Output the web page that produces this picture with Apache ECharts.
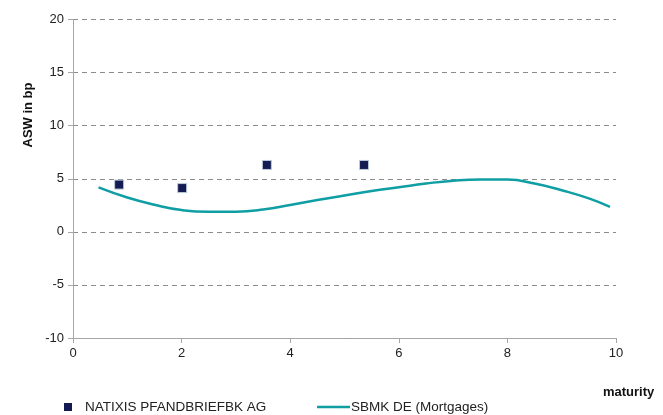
<!DOCTYPE html>
<html>
<head>
<meta charset="utf-8">
<script src="https://cdn.jsdelivr.net/npm/echarts@6/dist/echarts.min.js"></script>
<style>
html,body{margin:0;padding:0;background:#fff;}
#chart{width:663px;height:415px;}
</style>
</head>
<body>
<div id="chart"></div>
<script>
const natixisMaturity = [0.85, 2.01, 3.57, 5.36];
const natixisAsw = [4.45, 4.12, 6.3, 6.3];
const curveMaturity = [0.47, 1.0, 1.5, 2.0, 2.5, 3.0, 3.5, 4.0, 4.5, 5.0, 5.5, 6.0, 6.5, 7.0, 7.5, 8.0, 8.5, 9.0, 9.5, 9.89];
const curveAsw = [4.18, 3.23, 2.55, 2.05, 1.88, 1.9, 2.1, 2.52, 3.0, 3.42, 3.85, 4.2, 4.55, 4.82, 4.94, 4.92, 4.55, 3.92, 3.15, 2.35];
const seriesNames = ['NATIXIS PFANDBRIEFBK AG', 'SBMK DE (Mortgages)'];
const xTicks = {min: 0, max: 10, interval: 2};
const yTicks = {min: -10, max: 20, interval: 5};

const font = 'Liberation Sans, Arial, sans-serif';
const chart = echarts.init(document.getElementById('chart'));
chart.setOption({
  animation: false,
  textStyle: {fontFamily: font},
  grid: {left: 73, right: 47, top: 19.5, bottom: 77},
  xAxis: {
    type: 'value', min: xTicks.min, max: xTicks.max, interval: xTicks.interval,
    axisLine: {onZero: false, lineStyle: {color: '#a6a6a6', width: 1}},
    axisTick: {show: true, length: 5, lineStyle: {color: '#a6a6a6'}},
    axisLabel: {color: '#222', fontSize: 13, margin: 9, fontFamily: font},
    splitLine: {show: false}
  },
  yAxis: {
    type: 'value', min: yTicks.min, max: yTicks.max, interval: yTicks.interval,
    axisLine: {show: true, onZero: false, lineStyle: {color: '#a6a6a6', width: 1}},
    axisTick: {show: true, length: 5, lineStyle: {color: '#a6a6a6'}},
    axisLabel: {color: '#222', fontSize: 13, margin: 9, fontFamily: font},
    splitLine: {show: true, lineStyle: {color: '#8c8c8c', type: [5, 4], width: 1}}
  },
  graphic: [
    {type: 'text', x: 28, y: 115, rotation: Math.PI / 2,
     style: {text: 'ASW in bp', fill: '#111', font: 'bold 13px ' + font, textAlign: 'center', textVerticalAlign: 'middle'}},
    {type: 'text', x: 603, y: 392,
     style: {text: 'maturity', fill: '#111', font: 'bold 13px ' + font, textAlign: 'left', textVerticalAlign: 'middle'}}
  ],
  legend: [
    {data: [{name: seriesNames[0], icon: 'rect', itemStyle: {borderWidth: 0, color: '#141a52'}}], left: 59, top: 395, itemWidth: 8, itemHeight: 8,
     textStyle: {color: '#222', fontSize: 13.5, fontFamily: font, padding: [0, 0, 0, 8]}},
    {data: [{name: seriesNames[1], icon: 'rect'}], left: 312, top: 395, itemWidth: 33, itemHeight: 2.5,
     textStyle: {color: '#222', fontSize: 13.5, fontFamily: font, padding: [0, 0, 0, -4]}}
  ],
  series: [
    {
      name: seriesNames[0], type: 'scatter', symbol: 'rect', symbolSize: 9,
      itemStyle: {color: '#141a52', borderColor: '#b9ccd6', borderWidth: 1, opacity: 1},
      data: natixisMaturity.map((m, i) => [m, natixisAsw[i]]), z: 3
    },
    {
      name: seriesNames[1], type: 'line', smooth: true, symbol: 'none', showSymbol: false,
      lineStyle: {color: '#0f9ea3', width: 2.5},
      itemStyle: {color: '#0f9ea3'},
      data: curveMaturity.map((m, i) => [m, curveAsw[i]]), z: 2
    }
  ]
});
</script>
</body>
</html>
